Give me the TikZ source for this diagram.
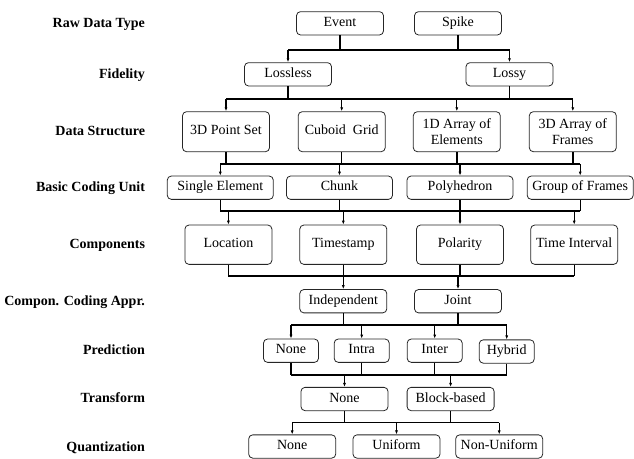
\documentclass[tikz,border=0pt]{standalone}
\usepackage{fontspec}
\setmainfont{Liberation Serif}
\usetikzlibrary{arrows.meta}
\begin{document}
\begin{tikzpicture}[x=1pt,y=-1pt,
  box/.style={draw=black!85, line width=0.8pt, rounded corners=4pt, minimum width=87pt, minimum height=23.3pt, inner sep=1pt, font=\fontsize{14}{15}\selectfont, text height=9.5pt, text depth=3pt},
  tall/.style={box, minimum height=40pt},
  two/.style={draw=black!85, line width=0.8pt, rounded corners=4pt, minimum width=87pt, minimum height=40pt, inner sep=1pt, align=center, font=\fontsize{14}{15.5}\selectfont},
  wide/.style={box, minimum width=106pt},
  small/.style={box, minimum width=55pt},
  lab/.style={anchor=east, font=\fontsize{14}{15}\selectfont\bfseries, text height=9.5pt, text depth=3pt},
  conn/.style={line width=1.4pt, black},
  arr/.style={line width=1.2pt, black, -{Latex[length=4pt,width=3pt]}}]
\useasboundingbox (0,0) rectangle (634,458);

% labels
\node[lab] (l1) at (148.5,24) {Raw Data Type};
\node[lab] (l2) at (148.5,75) {Fidelity};
\node[lab] (l3) at (148.5,132) {Data Structure};
\node[lab] (l4) at (148.5,188) {Basic Coding Unit};
\node[lab] (l5) at (148.5,245) {Components};
\node[lab] (l6) at (148.5,302) {Compon. Coding Appr.};
\node[lab] (l7) at (148.5,351) {Prediction};
\node[lab] (l8) at (148.5,399) {Transform};
\node[lab] (l9) at (148.5,448) {Quantization};

% boxes
\node[box] (ev) at (340,23.3) {Event};
\node[box] (sp) at (458,23.3) {Spike};
\node[box] (ll) at (288,74.3) {Lossless};
\node[box] (ly) at (509.5,74.3) {Lossy};
\node[tall] (d1) at (226,131.7) {3D Point Set};
\node[tall] (d2) at (341.7,131.7) {Cuboid\ \ Grid};
\node[two] (d3) at (456.8,131.7) {1D Array of\\Elements};
\node[two] (d4) at (572.8,131.7) {3D Array of\\Frames};
\node[wide] (u1) at (220.3,187.7) {Single Element};
\node[wide] (u2) at (339.5,187.7) {Chunk};
\node[wide] (u3) at (460,187.7) {Polyhedron};
\node[wide] (u4) at (580.2,187.7) {Group of Frames};
\node[tall, minimum height=39.3pt] (c1) at (228.4,244.7) {Location};
\node[tall, minimum height=39.3pt] (c2) at (343.3,244.7) {Timestamp};
\node[tall, minimum height=39.3pt] (c3) at (460,244.7) {Polarity};
\node[tall, minimum height=39.3pt] (c4) at (574.2,244.7) {Time Interval};
\node[box] (a1) at (343.3,301.2) {Independent};
\node[box] (a2) at (458,301.2) {Joint};
\node[small] (p1) at (291,350.7) {None};
\node[small] (p2) at (361.7,350.7) {Intra};
\node[small] (p3) at (434.7,350.7) {Inter};
\node[small] (p4) at (506.7,351.5) {Hybrid};
\node[box] (t1) at (344.5,399) {None};
\node[box] (t2) at (450.6,399) {Block-based};
\node[box] (q1) at (292.2,446.5) {None};
\node[box] (q2) at (396.5,446.5) {Uniform};
\node[box] (q3) at (499.2,446.5) {Non-Uniform};

% bus levels
\coordinate (b1) at (0,50);
\coordinate (b2) at (0,99);
\coordinate (b3) at (0,164);
\coordinate (b4) at (0,211);
\coordinate (b5) at (0,276);
\coordinate (b6) at (0,325);
\coordinate (b7) at (0,375);
\coordinate (b8) at (0,422.7);

% stage 1
\draw[conn] (ev.south) -- (ev.south |- b1);
\draw[conn] (sp.south) -- (sp.south |- b1);
\draw[conn] (ll.north |- b1) -- (ly.north |- b1);
\draw[arr] (ll.north |- b1) -- (ll.north);
\draw[arr] (ly.north |- b1) -- (ly.north);
% stage 2
\draw[conn] (ll.south) -- (ll.south |- b2);
\draw[conn] (ly.south) -- (ly.south |- b2);
\draw[conn] (d1.north |- b2) -- (d4.north |- b2);
\foreach \n in {d1,d2,d3,d4} \draw[arr] (\n.north |- b2) -- (\n.north);
% stage 3
\foreach \n in {d1,d2,d3,d4} \draw[conn] (\n.south) -- (\n.south |- b3);
\draw[conn] (u1.north |- b3) -- (u4.north |- b3);
\foreach \n in {u1,u2,u3,u4} \draw[arr] (\n.north |- b3) -- (\n.north);
% stage 4
\foreach \n in {u1,u2,u3,u4} \draw[conn] (\n.south) -- (\n.south |- b4);
\draw[conn] (u1.south |- b4) -- (u4.south |- b4);
\foreach \n in {c1,c2,c3,c4} \draw[arr] (\n.north |- b4) -- (\n.north);
% stage 5
\foreach \n in {c1,c2,c3,c4} \draw[conn] (\n.south) -- (\n.south |- b5);
\draw[conn] (c1.south |- b5) -- (c4.south |- b5);
\foreach \n in {a1,a2} \draw[arr] (\n.north |- b5) -- (\n.north);
% stage 6
\foreach \n in {a1,a2} \draw[conn] (\n.south) -- (\n.south |- b6);
\draw[conn] (p1.north |- b6) -- (p4.north |- b6);
\foreach \n in {p1,p2,p3,p4} \draw[arr] (\n.north |- b6) -- (\n.north);
% stage 7
\foreach \n in {p1,p2,p3,p4} \draw[conn] (\n.south) -- (\n.south |- b7);
\draw[conn] (p1.south |- b7) -- (p4.south |- b7);
\foreach \n in {t1,t2} \draw[arr] (\n.north |- b7) -- (\n.north);
% stage 8
\foreach \n in {t1,t2} \draw[conn] (\n.south) -- (\n.south |- b8);
\draw[conn] (q1.north |- b8) -- (q3.north |- b8);
\foreach \n in {q1,q2,q3} \draw[arr] (\n.north |- b8) -- (\n.north);
\end{tikzpicture}
\end{document}
